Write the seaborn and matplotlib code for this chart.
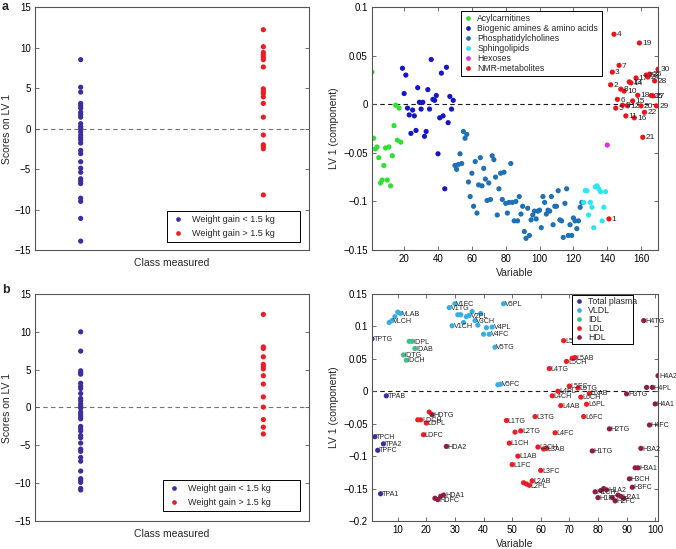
import numpy as np
import pandas as pd
import matplotlib
matplotlib.use("Agg")
import matplotlib.pyplot as plt
import seaborn as sns
from matplotlib.ticker import FuncFormatter

# ---- left panels: scores on LV 1 for the two classes ----
class_names = ["Weight gain < 1.5 kg", "Weight gain > 1.5 kg"]
class_colors = ["#3b2f9e", "#ec1c24"]

scores_a_low = [8.5, 5.1, 4.5, 3.1, 2.8, 2.5, 2.0, 1.7, 1.4, 0.6, 0.25, 0.0, -0.4, -0.8, -1.1,
                -1.4, -1.8, -2.7, -3.1, -4.1, -4.9, -5.4, -6.2, -6.5, -6.8, -8.6, -9.0,
                -11.1, -13.9]
scores_a_high = [12.2, 10.1, 9.4, 9.1, 8.8, 8.5, 7.6, 4.9, 4.6, 4.3, 3.9, 3.1, 1.4, -0.8,
                 -2.0, -2.2, -2.5, -8.2]
scores_b_low = [10.0, 7.45, 4.85, 4.6, 4.4, 3.2, 2.8, 2.5, 1.85, 1.2, 0.9, 0.5, 0.2, -0.1,
                -0.6, -0.9, -1.2, -1.5, -2.5, -2.8, -3.1, -3.7, -4.0, -4.7, -5.5, -5.8,
                -6.6, -7.1, -8.4, -9.4, -9.6, -9.9, -10.7, -10.9]
scores_b_high = [12.3, 8.0, 7.8, 6.7, 5.7, 5.4, 5.1, 4.2, 3.1, 1.4, 0.05, -1.6, -2.6, -3.5]

# ---- panel a right: loadings of metabolites (x = variable number) ----
metab_groups = ["Acylcarnitines", "Biogenic amines & amino acids", "Phosphatidylcholines",
                "Sphingolipids", "Hexoses", "NMR-metabolites"]
metab_colors = ["#30e030", "#1616c8", "#1f70b4", "#2ee6f0", "#e22ee2", "#e8161c"]

acyl_y = [0.033, -0.035, -0.046, -0.044, -0.055, -0.081, -0.078, -0.063, -0.045, -0.078,
          -0.044, -0.084, -0.053, -0.022, -0.001, -0.037, -0.004, -0.039]
amino_y = [0.037, 0.011, 0.030, -0.004, -0.011, -0.030, -0.006, -0.012, -0.027, 0.017,
           0.002, -0.005, 0.002, -0.033, -0.028, 0.015, -0.005, 0.046, 0.005, 0.004,
           0.009, -0.051, -0.014, 0.032, -0.012, -0.087, 0.038, -0.019, 0.008, -0.005, 0.004]
pc_y = [-0.063, -0.067, -0.062, -0.051, -0.061, -0.028, -0.035, -0.031, -0.080, -0.095,
        -0.071, -0.105, -0.059, -0.112, -0.083, -0.055, -0.084, -0.066, -0.077, -0.099,
        -0.081, -0.098, -0.053, -0.057, -0.075, -0.114, -0.087,
        -0.071, -0.098, -0.070, -0.102, -0.112, -0.101, -0.061, -0.101, -0.120, -0.100,
        -0.120, -0.095, -0.113, -0.105, -0.131, -0.138, -0.107, -0.135, -0.119, -0.114,
        -0.110, -0.118, -0.110, -0.109, -0.127, -0.095, -0.101, -0.113, -0.109, -0.110,
        -0.095, -0.124, -0.105, -0.105, -0.089, -0.119, -0.120, -0.137, -0.102, -0.087,
        -0.135, -0.124, -0.135, -0.117, -0.120, -0.128, -0.120, -0.106, -0.101]
sm_y = [-0.101, -0.089, -0.089, -0.114, -0.101, -0.106, -0.127, -0.085, -0.084, -0.087,
        -0.090, -0.120, -0.106, -0.090]
hexose_y = [-0.042]
nmr_y = [-0.118, 0.020, 0.033, 0.072, -0.004, 0.005, 0.040, 0.0155, -0.001, 0.0135,
         -0.012, -0.0017, 0.023, 0.022, 0.0034, -0.014, 0.027, 0.0092, 0.063, -0.0017,
         -0.034, -0.0083, 0.030, 0.028, 0.031, 0.009, 0.0086, 0.024, -0.0017, 0.036]
nmr_labels = ["1", "2", "3", "4", "5", "6", "7", "8", "9", "10", "11", "12", "13", "14", "15",
              "16", "17", "18", "19", "20", "21", "22", "23", "24", "25", "26", "27", "28",
              "29", "30"]

# ---- panel b right: loadings of lipoprotein variables (x = variable number) ----
lipo_groups = ["Total plasma", "VLDL", "IDL", "LDL", "HDL"]
lipo_colors = ["#3a2e99", "#38aee0", "#3cc08a", "#ee1c24", "#8f1d3f"]

lipo_names = ["TPTG", "TPCH", "TPFC", "TPA1", "TPA2", "TPAB",
              "VLTG", "VLCH", "VLFC", "VLPL", "VLAB",
              "IDTG", "IDCH", "IDFC", "IDPL", "IDAB",
              "LDTG", "LDCH", "LDFC", "LDPL", "LDAB",
              "HDTG", "HDCH", "HDFC", "HDPL", "HDA1", "HDA2",
              "V1TG", "V1CH", "V1FC", "V1PL", "V2TG", "V2CH", "V2FC", "V2PL",
              "V3TG", "V3CH", "V3FC", "V3PL", "V4TG", "V4CH", "V4FC", "V4PL",
              "V5TG", "V5CH", "V5FC", "V5PL",
              "L1TG", "L1CH", "L1FC", "L1PL", "L1AB", "L2TG", "L2CH", "L2FC", "L2PL", "L2AB",
              "L3TG", "L3CH", "L3FC", "L3PL", "L3AB", "L4TG", "L4CH", "L4FC", "L4PL", "L4AB",
              "L5TG", "L5CH", "L5FC", "L5PL", "L5AB", "L6TG", "L6CH", "L6FC", "L6PL", "L6AB",
              "H1TG", "H1CH", "H1FC", "H1PL", "H1A1", "H1A2", "H2TG", "H2CH", "H2FC", "H2PL",
              "H2A1", "H2A2", "H3TG", "H3CH", "H3FC", "H3PL", "H3A1", "H3A2",
              "H4TG", "H4CH", "H4FC", "H4PL", "H4A1", "H4A2"]
lipo_y = [0.081, -0.070, -0.091, -0.158, -0.081, -0.007,
          0.106, 0.109, 0.115, 0.122, 0.120,
          0.056, 0.048, 0.077, 0.077, 0.066,
          -0.044, -0.044, -0.067, -0.049, -0.032,
          -0.036, -0.165, -0.167, -0.162, -0.160, -0.085,
          0.129, 0.101, 0.135, 0.118, 0.118, 0.106, 0.115, 0.117,
          0.123, 0.109, 0.102, 0.120, 0.088, 0.098, 0.088, 0.099,
          0.068, 0.010, 0.011, 0.135,
          -0.045, -0.080, -0.113, -0.063, -0.100, -0.061, -0.141, -0.143, -0.145, -0.138,
          -0.039, -0.086, -0.122, -0.089, -0.088, 0.035, -0.007, -0.064, 0.000, -0.022,
          0.078, 0.046, 0.008, 0.051, 0.052, 0.005, -0.009, -0.039, -0.020, -0.003,
          -0.092, -0.155, -0.164, -0.153, -0.150, -0.152, -0.058, -0.164, -0.169, -0.160,
          -0.162, -0.165, -0.004, -0.135, -0.148, -0.118, -0.118, -0.088,
          0.109, 0.006, -0.052, 0.006, -0.0195, 0.024]
# names that can be read in the original figure (the rest overlap)
shown_names = ["TPTG", "TPAB", "TPCH", "TPA2", "TPFC", "TPA1", "VLAB", "VLCH", "IDPL", "IDAB",
               "IDTG", "IDCH", "LDCH", "LDPL", "LDFC", "HDTG", "HDA2", "HDA1", "HDFC",
               "V1FC", "V1TG", "V1CH", "V2PL", "V3CH", "V4PL", "V4FC", "V5PL", "V5TG", "V5FC",
               "L1TG", "L2TG", "L1CH", "L1AB", "L1FC", "L3CH", "L3AB", "L2AB", "L2PL", "L3TG",
               "L3FC", "L4TG", "L4CH", "L4FC", "L4PL", "L4AB", "L5TG", "L5CH", "L5FC", "L5AB",
               "L6TG", "L6CH", "L6FC", "L6PL", "L6AB", "H1TG", "H1CH", "H1FC", "H1A2", "H2TG",
               "H2FC", "H2A1", "H3TG", "H3CH", "H3FC", "H3A1", "H3A2", "H4TG", "H4FC", "H4PL",
               "H4A1", "H4A2"]


def lipo_group(name):
    if name.startswith("TP"):
        return "Total plasma"
    if name[0] == "V":
        return "VLDL"
    if name.startswith("ID"):
        return "IDL"
    if name[0] == "L":
        return "LDL"
    return "HDL"


# build tables
def scores_table(low, high):
    return pd.DataFrame({
        "cls": [1] * len(low) + [2] * len(high),
        "score": low + high,
        "group": [class_names[0]] * len(low) + [class_names[1]] * len(high)})


df_a_left = scores_table(scores_a_low, scores_a_high)
df_b_left = scores_table(scores_b_low, scores_b_high)

metab_values = [acyl_y, amino_y, pc_y, sm_y, hexose_y, nmr_y]
metab_rows = []
for g, vals in zip(metab_groups, metab_values):
    for v in vals:
        metab_rows.append((g, v))
df_metab = pd.DataFrame(metab_rows, columns=["group", "y"])
df_metab["x"] = np.arange(1, len(df_metab) + 1)

df_lipo = pd.DataFrame({"name": lipo_names, "y": lipo_y})
df_lipo["x"] = np.arange(1, len(df_lipo) + 1)
df_lipo["group"] = df_lipo["name"].map(lipo_group)

# ---- style ----
sns.set_theme(style="ticks")
plt.rcParams["font.family"] = ["Liberation Sans", "DejaVu Sans"]
plt.rcParams["axes.edgecolor"] = "#555555"
plt.rcParams["axes.linewidth"] = 0.8

fig = plt.figure(figsize=(6.76, 5.49), dpi=100)
ax_al = fig.add_axes([0.0518, 0.5446, 0.4053, 0.4426])
ax_ar = fig.add_axes([0.5503, 0.5446, 0.4231, 0.4426])
ax_bl = fig.add_axes([0.0518, 0.0510, 0.4053, 0.4135])
ax_br = fig.add_axes([0.5503, 0.0510, 0.4231, 0.4135])

fmt = FuncFormatter(lambda v, p: ("%g" % round(v, 3)).replace("-", "\u2212"))
tick_fs = 7


def style_axes(ax):
    ax.tick_params(direction="in", top=True, right=True, length=3, width=0.6,
                   labelsize=tick_fs, color="#555555", labelcolor="black", pad=3)
    ax.yaxis.set_major_formatter(fmt)
    ax.xaxis.set_major_formatter(fmt)


def make_legend(ax, **kw):
    handles, labels = ax.get_legend_handles_labels()
    opts = dict(fontsize=6.3, frameon=True, fancybox=False, framealpha=1,
                edgecolor="black", handletextpad=0.6, handlelength=1.0,
                borderpad=0.4, labelspacing=0.2, markerscale=0.9, borderaxespad=0)
    opts.update(kw)
    leg = ax.legend(handles, labels, **opts)
    leg.get_frame().set_linewidth(0.7)
    return leg


# left panels
left_legend_boxes = [(0.482, 0.033, 0.485, 0.3), (0.467, 0.045, 0.50, 0.3)]
for ax, df, box in [(ax_al, df_a_left, left_legend_boxes[0]),
                    (ax_bl, df_b_left, left_legend_boxes[1])]:
    sns.scatterplot(data=df, x="cls", y="score", hue="group", hue_order=class_names,
                    palette=class_colors, s=14, linewidth=0, ax=ax)
    ax.axhline(0, color="0.45", ls="--", lw=0.8, dashes=(4, 3), zorder=0)
    ax.set_xlim(0.75, 2.25)
    ax.set_ylim(-15, 15)
    ax.set_yticks(np.arange(-15, 16, 5))
    ax.set_xticks([])
    style_axes(ax)
    ax.tick_params(axis="x", top=False, bottom=False)
    ax.set_xlabel("Class measured", fontsize=7.5, labelpad=6)
    ax.set_ylabel("Scores on LV 1", fontsize=7.5, labelpad=2)
    make_legend(ax, loc="lower left", bbox_to_anchor=box, mode="expand",
                fontsize=6.5, labelspacing=0.55, handlelength=1.6, handletextpad=0.7,
                borderpad=0.45)

# panel a right
sns.scatterplot(data=df_metab, x="x", y="y", hue="group", hue_order=metab_groups,
                palette=metab_colors, s=14, linewidth=0, ax=ax_ar)
ax_ar.axhline(0, color="0.1", ls="--", lw=0.8, dashes=(4, 3), zorder=0)
nmr_df = df_metab[df_metab["group"] == "NMR-metabolites"]
for lab, (_, row) in zip(nmr_labels, nmr_df.iterrows()):
    ax_ar.annotate(lab, (row["x"], row["y"]), xytext=(2, -0.5), textcoords="offset points",
                   va="center", ha="left", fontsize=6, annotation_clip=False)
ax_ar.set_xlim(1, 170)
ax_ar.set_ylim(-0.15, 0.1)
ax_ar.set_xticks(np.arange(20, 161, 20))
ax_ar.set_yticks([-0.15, -0.1, -0.05, 0, 0.05, 0.1])
style_axes(ax_ar)
ax_ar.set_xlabel("Variable", fontsize=7.5, labelpad=3)
ax_ar.set_ylabel("LV 1 (component)", fontsize=7.5, labelpad=3)
make_legend(ax_ar, loc="upper left", bbox_to_anchor=(0.31, 0.5, 0.495, 0.485),
            mode="expand", fontsize=6.2, labelspacing=0.12, borderpad=0.35)

# panel b right
sns.scatterplot(data=df_lipo, x="x", y="y", hue="group", hue_order=lipo_groups,
                palette=lipo_colors, s=14, linewidth=0, ax=ax_br)
ax_br.axhline(0, color="0.1", ls="--", lw=0.8, dashes=(4, 3), zorder=0)
for _, row in df_lipo.iterrows():
    if row["name"] in shown_names:
        ax_br.annotate(row["name"], (row["x"], row["y"]), xytext=(1.0, -0.5),
                       textcoords="offset points", va="center", ha="left", fontsize=5.1,
                       annotation_clip=False)
ax_br.set_xlim(1, 101)
ax_br.set_ylim(-0.2, 0.15)
ax_br.set_xticks(np.arange(10, 101, 10))
ax_br.set_yticks([-0.2, -0.15, -0.1, -0.05, 0, 0.05, 0.1, 0.15])
style_axes(ax_br)
ax_br.set_xlabel("Variable", fontsize=7.5, labelpad=3)
ax_br.set_ylabel("LV 1 (component)", fontsize=7.5, labelpad=3)
make_legend(ax_br, loc="upper left", bbox_to_anchor=(0.70, 0.5, 0.213, 0.497),
            mode="expand", fontsize=6.3, labelspacing=0.0, borderpad=0.25)

# panel letters
fig.text(0.003, 0.998, "a", fontsize=9, fontweight="bold", va="top", ha="left")
fig.text(0.003, 0.482, "b", fontsize=9, fontweight="bold", va="top", ha="left")

fig.savefig("out.png", dpi=100)
